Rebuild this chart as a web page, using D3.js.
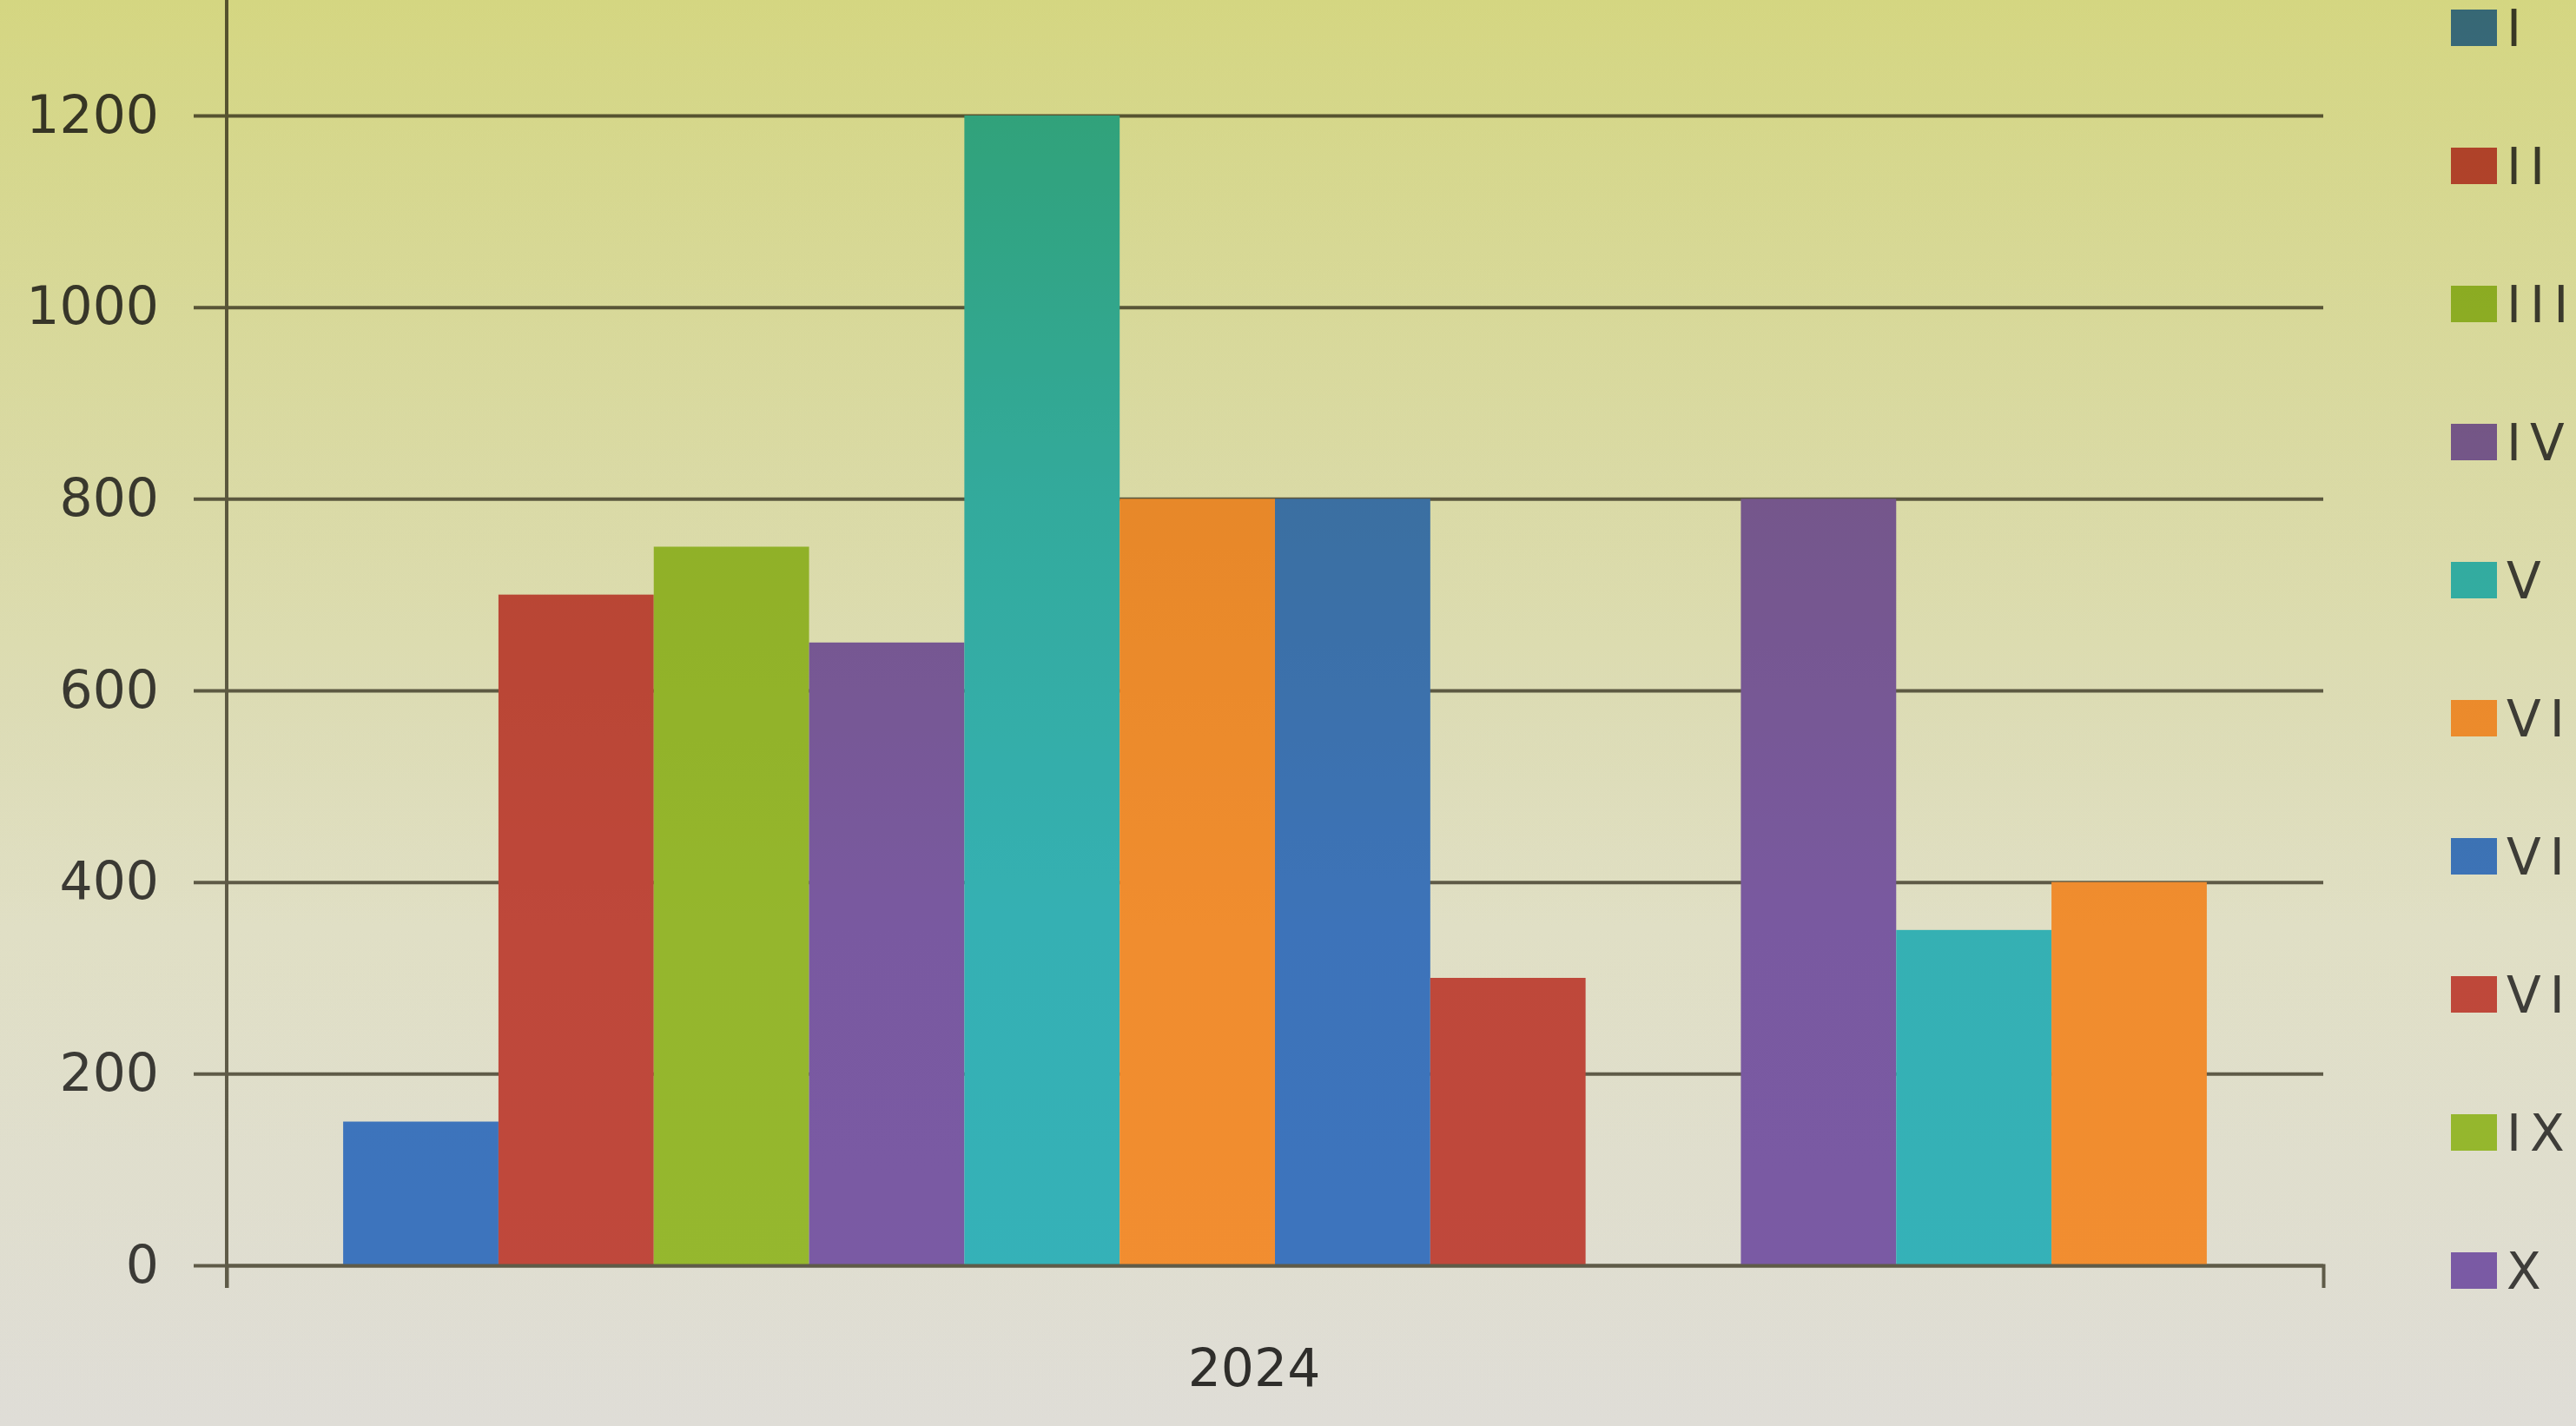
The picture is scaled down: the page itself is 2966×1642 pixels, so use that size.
<!DOCTYPE html>
<html lang="en">
<head>
    <meta charset="UTF-8">
    <title>2024 column chart</title>
    <style>
        body{
            margin: 0;
            background: #fff;
        }
        svg{
            display: block;
            font-family: "DejaVu Sans", Verdana, sans-serif;
        }
    </style>
    <script src="https://d3js.org/d3.v7.min.js"></script>
</head>
<body>
    <script>
        // chart data
        var categories = ["2024"];
        var seriesNames = ["I", "II", "III", "IV", "V", "VI", "VII", "VIII", "IX", "X", "XI", "XII"];
        var seriesValues = [150, 700, 750, 650, 1200, 800, 800, 300, 0, 800, 350, 400];
        var yTickValues = [0, 200, 400, 600, 800, 1000, 1200];
        var legendShown = 10; // the legend box only has room for the first ten

        // office-style palette, repeats every six series
        var palette = ["#3d74c0", "#c0483c", "#96b82e", "#7a5aa6", "#35b2ba", "#f28e30"];

        var width = 2966,
            height = 1642,
            plotLeft = 261,
            plotRight = 2675,
            plotTop = 133,
            plotBottom = 1457;

        var svg = d3.select("body")
            .append("svg")
            .attr("width", width)
            .attr("height", height);

        var defs = svg.append("defs");

        // screen background as photographed
        var bg = defs.append("linearGradient")
            .attr("id", "bg")
            .attr("x1", 0).attr("y1", 0)
            .attr("x2", 0).attr("y2", 1);
        bg.append("stop").attr("offset", "0%").attr("stop-color", "#eef0d6");
        bg.append("stop").attr("offset", "35%").attr("stop-color", "#e4e4c6");
        bg.append("stop").attr("offset", "65%").attr("stop-color", "#e2e1cc");
        bg.append("stop").attr("offset", "100%").attr("stop-color", "#dfddd7");

        // yellow cast of the photo, strongest at the top
        var tint = defs.append("linearGradient")
            .attr("id", "tint")
            .attr("x1", 0).attr("y1", 0)
            .attr("x2", 0).attr("y2", 1);
        tint.append("stop").attr("offset", "0%").attr("stop-color", "#e4e49a");
        tint.append("stop").attr("offset", "35%").attr("stop-color", "#f4f4d6");
        tint.append("stop").attr("offset", "65%").attr("stop-color", "#fdfdf6");
        tint.append("stop").attr("offset", "100%").attr("stop-color", "#ffffff");

        svg.append("rect")
            .attr("width", width)
            .attr("height", height)
            .attr("fill", "url(#bg)");

        var x0 = d3.scaleBand()
            .domain(categories)
            .range([plotLeft, plotRight])
            .paddingInner(0)
            .paddingOuter(0.0625);

        var x1 = d3.scaleBand()
            .domain(seriesNames)
            .range([0, x0.bandwidth()]);

        var y = d3.scaleLinear()
            .domain([0, 1200])
            .range([plotBottom, plotTop]);

        var color = d3.scaleOrdinal()
            .domain(seriesNames)
            .range(seriesNames.map(function(d, i) { return palette[i % palette.length]; }));

        // gridlines, drawn from the right edge so they run out past the axis as ticks
        svg.append("g")
            .attr("transform", "translate(" + plotRight + ",0)")
            .call(d3.axisLeft(y).tickValues(yTickValues).tickSize(plotRight - plotLeft + 38).tickFormat(""))
            .call(function(g) { g.select(".domain").remove(); })
            .selectAll("line")
            .attr("stroke", "#5f5b49")
            .attr("stroke-width", 4);

        // y labels
        svg.append("g")
            .attr("transform", "translate(" + plotLeft + ",0)")
            .call(d3.axisLeft(y).tickValues(yTickValues).tickSize(0).tickPadding(78).tickFormat(d3.format("d")))
            .call(function(g) { g.select(".domain").remove(); })
            .selectAll("text")
            .attr("font-size", 60)
            .attr("fill", "#3b3a36")
            .attr("font-family", "DejaVu Sans, sans-serif");

        // bars
        var data = seriesNames.map(function(name, i) { return { name: name, value: seriesValues[i] }; });
        svg.append("g")
            .selectAll("rect")
            .data(data)
            .enter()
            .append("rect")
            .attr("x", function(d) { return x0(categories[0]) + x1(d.name); })
            .attr("y", function(d) { return y(d.value); })
            .attr("width", x1.bandwidth())
            .attr("height", function(d) { return y(0) - y(d.value); })
            .attr("fill", function(d) { return color(d.name); });

        // category axis with end ticks
        var xAxis = svg.append("g")
            .attr("transform", "translate(0," + plotBottom + ")")
            .call(d3.axisBottom(x0).tickSizeInner(0).tickSizeOuter(26).tickPadding(96));
        xAxis.select(".domain")
            .attr("stroke", "#5f5b49")
            .attr("stroke-width", 4);
        xAxis.selectAll("text")
            .attr("font-size", 60)
            .attr("dx", -24)
            .attr("fill", "#2f2e2b")
            .attr("font-family", "DejaVu Sans, sans-serif");

        // value axis line runs up to the top of the photo
        svg.append("line")
            .attr("x1", plotLeft).attr("x2", plotLeft)
            .attr("y1", 0).attr("y2", plotBottom + 26)
            .attr("stroke", "#5f5b49")
            .attr("stroke-width", 4);

        // legend
        var legend = svg.append("g")
            .selectAll("g")
            .data(seriesNames.slice(0, legendShown))
            .enter()
            .append("g")
            .attr("transform", function(d, i) { return "translate(2822," + (32 + i * 159) + ")"; });

        legend.append("rect")
            .attr("x", 0)
            .attr("y", -21)
            .attr("width", 53)
            .attr("height", 42)
            .attr("fill", function(d) { return color(d); });

        legend.append("text")
            .attr("x", 64)
            .attr("dy", "0.36em")
            .attr("font-size", 58)
            .attr("letter-spacing", 10)
            .attr("fill", "#3e3d3a")
            .text(function(d) { return d; });

        // photo tint over everything
        svg.append("rect")
            .attr("width", width)
            .attr("height", height)
            .attr("fill", "url(#tint)")
            .style("mix-blend-mode", "multiply")
            .style("pointer-events", "none");
    </script>
</body>
</html>
